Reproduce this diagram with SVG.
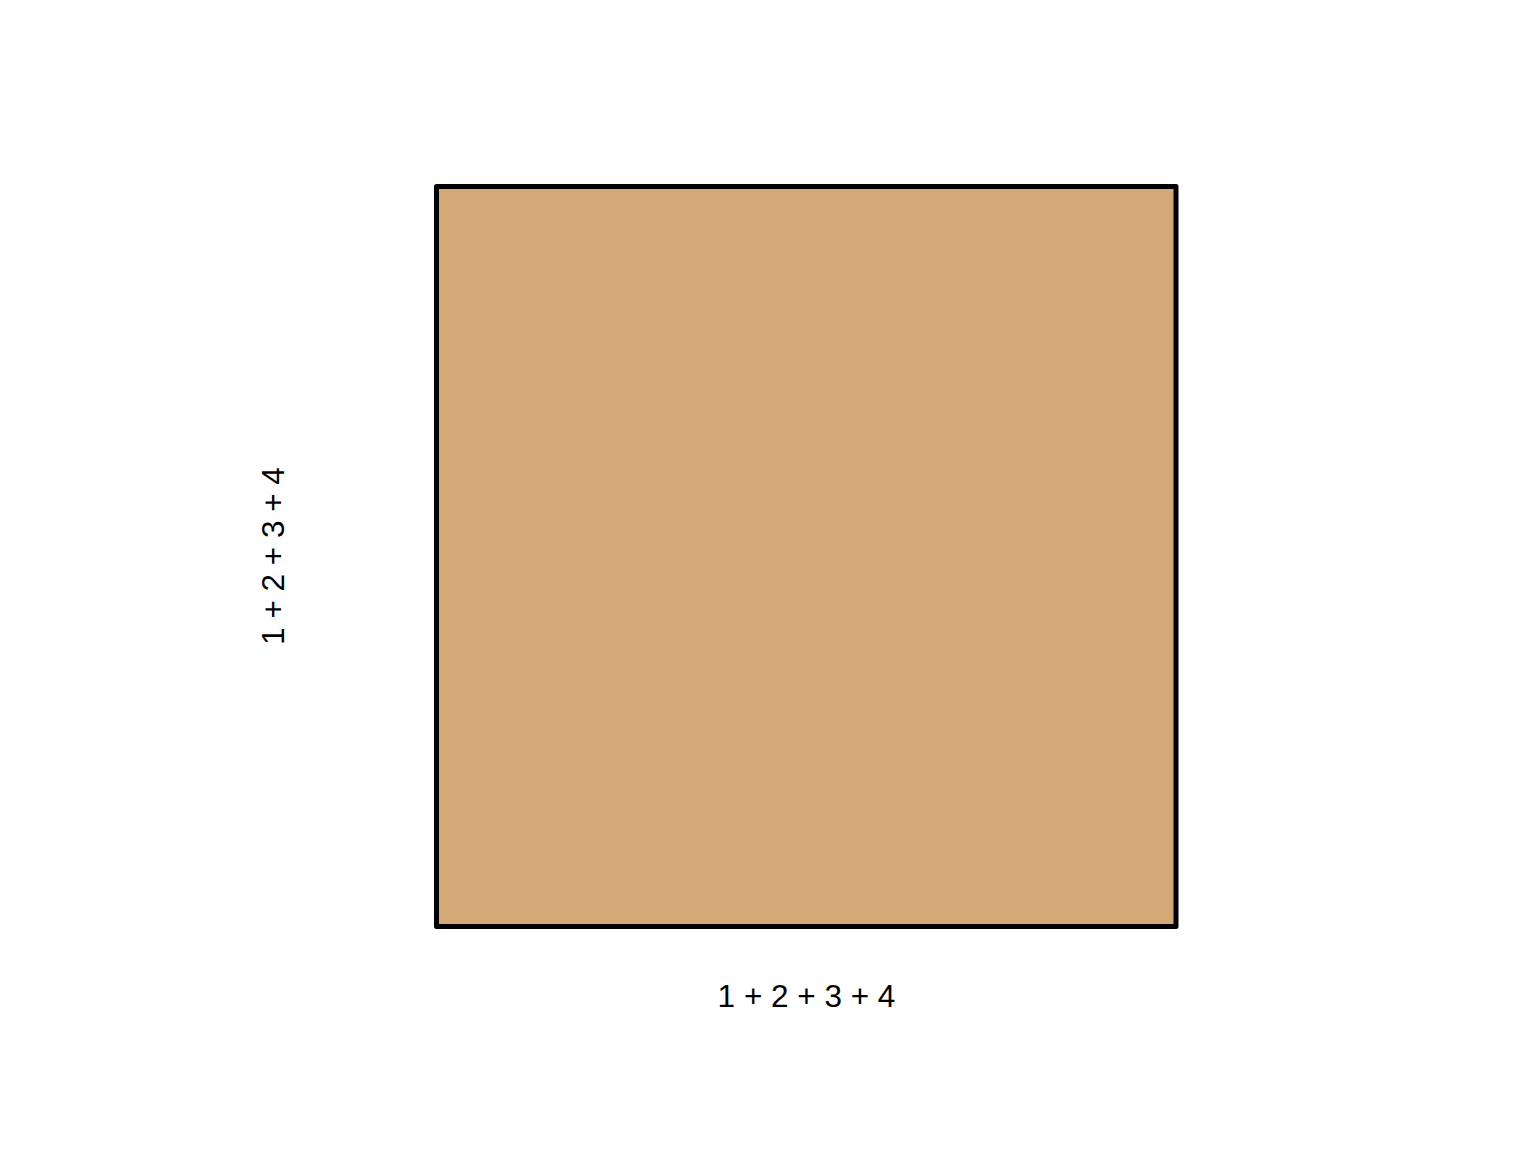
<svg xmlns="http://www.w3.org/2000/svg" width="1536" height="1152" viewBox="0 0 1536 1152">
<style>
.lbl{font-family:"Liberation Sans",Arial,sans-serif;font-size:31.5px;fill:#000;text-anchor:middle}
</style>
<rect width="1536" height="1152" fill="#fff"/>
<g id="square">
<rect x="436.5" y="186.5" width="739.5" height="740" fill="#d5a975" stroke="#000" stroke-width="5" stroke-linejoin="round"/>
</g>
<g id="connectors"></g>
<g id="labels">
<text class="lbl" x="806.5" y="1006.5">1 + 2 + 3 + 4</text>
<text class="lbl" transform="translate(283.5,556) rotate(-90)" x="0" y="0">1 + 2 + 3 + 4</text>
</g>
</svg>
